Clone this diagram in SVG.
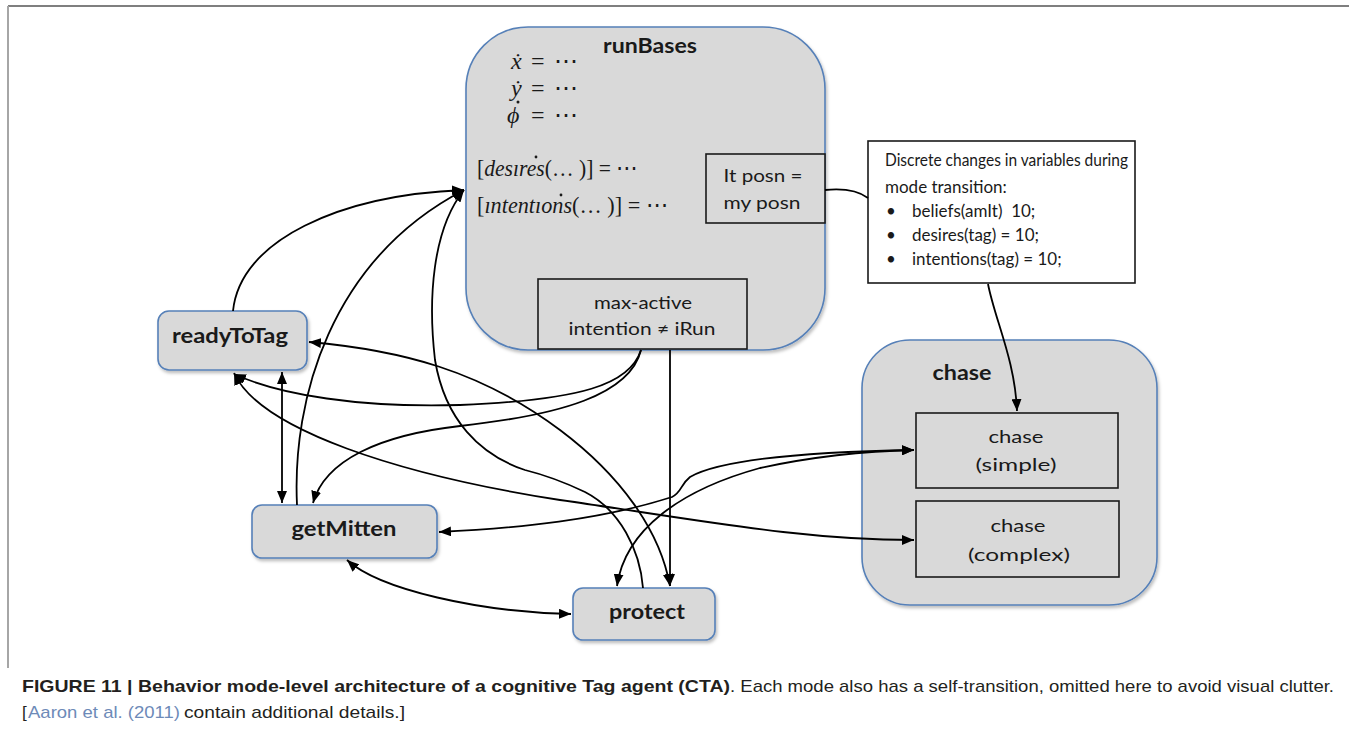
<svg xmlns="http://www.w3.org/2000/svg" width="1357" height="733" viewBox="0 0 1357 733">
<style>
.mode{fill:#d9d9d9;stroke:#5680b8;stroke-width:1.6}
.inner{fill:#d9d9d9;stroke:#1a1a1a;stroke-width:1.6}
.note{fill:#ffffff;stroke:#1a1a1a;stroke-width:1.6}
.lbl{font-family:Lato,"Open Sans","Liberation Sans",sans-serif;font-weight:bold;font-size:20px;fill:#1a1a1a;text-anchor:middle}
.txt{font-family:Lato,"Open Sans","Liberation Sans",sans-serif;font-size:18px;fill:#1a1a1a;text-anchor:middle}
.ntxt{font-family:Lato,"Open Sans","Liberation Sans",sans-serif;font-size:17px;fill:#1a1a1a}
.math{font-family:"Liberation Serif","DejaVu Serif",serif;font-size:24px;fill:#1a1a1a}
.it{font-style:italic}
.conn path{fill:none;stroke:#000;stroke-width:1.8}
.cap{font-family:"Liberation Sans",Arial,sans-serif;font-size:17px;fill:#231f20}
</style>
<defs>
<marker id="ah" viewBox="0 0 12 10" refX="12" refY="5" markerWidth="12" markerHeight="10" markerUnits="userSpaceOnUse" orient="auto-start-reverse"><path d="M0,0 L12,5 L0,10 z" fill="#000"/></marker>
<filter id="sh" x="-10%" y="-10%" width="130%" height="140%"><feDropShadow dx="1.5" dy="2.5" stdDeviation="1.5" flood-color="#000" flood-opacity="0.25"/></filter>
</defs>
<rect width="1357" height="733" fill="#fff"/>
<g id="frame" fill="none">
<path d="M8,6 H1349" stroke="#7f7f7f" stroke-width="2"/>
<path d="M8,6 V668" stroke="#a6a6a6" stroke-width="2"/>
</g>

<g id="runBases">
<rect class="mode" x="466" y="27" width="359" height="323" rx="62" filter="url(#sh)"/>
<text class="lbl" x="650" y="53" textLength="94" lengthAdjust="spacingAndGlyphs">runBases</text>
<text class="math" y="69"><tspan class="it" x="511">ẋ</tspan><tspan x="531">=</tspan><tspan x="554">⋯</tspan></text>
<text class="math" y="96"><tspan class="it" x="511">ẏ</tspan><tspan x="531">=</tspan><tspan x="554">⋯</tspan></text>
<text class="math" y="123"><tspan class="it" x="507">ϕ</tspan><tspan x="531">=</tspan><tspan x="554">⋯</tspan></text>
<circle cx="518" cy="102" r="1.5" fill="#1a1a1a"/>
<text class="math" x="477" y="176" textLength="161" lengthAdjust="spacingAndGlyphs">[<tspan class="it">desıres</tspan>(… )] = ⋯</text>
<circle cx="536" cy="157" r="1.4" fill="#1a1a1a"/>
<text class="math" x="477" y="213" textLength="191" lengthAdjust="spacingAndGlyphs">[<tspan class="it">ıntentıons</tspan>(… )] = ⋯</text>
<circle cx="561" cy="195" r="1.4" fill="#1a1a1a"/>
</g>

<g id="itPosn">
<rect class="inner" x="706" y="154" width="119" height="69"/>
<text class="txt" x="763" y="182" textLength="79" lengthAdjust="spacingAndGlyphs">It posn =</text>
<text class="txt" x="762" y="209" textLength="77" lengthAdjust="spacingAndGlyphs">my posn</text>
</g>

<g id="maxActive">
<rect class="inner" x="538" y="279" width="209" height="70"/>
<text class="txt" x="643" y="309" textLength="98" lengthAdjust="spacingAndGlyphs">max-active</text>
<text class="txt" x="642" y="335" textLength="147" lengthAdjust="spacingAndGlyphs">intention ≠ iRun</text>
</g>

<g id="discreteNote">
<rect class="note" x="868" y="141" width="267" height="142"/>
<text class="ntxt" x="885" y="166" textLength="243" lengthAdjust="spacingAndGlyphs">Discrete changes in variables during</text>
<text class="ntxt" x="885" y="193">mode transition:</text>
<text class="ntxt" x="886" y="217">•</text>
<text class="ntxt" x="912" y="217" xml:space="preserve">beliefs(amIt)  10;</text>
<text class="ntxt" x="886" y="241">•</text>
<text class="ntxt" x="912" y="241">desires(tag) = 10;</text>
<text class="ntxt" x="886" y="265">•</text>
<text class="ntxt" x="912" y="265">intentions(tag) = 10;</text>
</g>

<g id="chase">
<rect class="mode" x="862" y="340" width="295" height="265" rx="48" filter="url(#sh)"/>
<text class="lbl" x="962" y="380" textLength="59" lengthAdjust="spacingAndGlyphs">chase</text>
</g>
<g id="chaseSimple">
<rect class="inner" x="916" y="413" width="202" height="75"/>
<text class="txt" x="1016" y="443" textLength="55" lengthAdjust="spacingAndGlyphs">chase</text>
<text class="txt" x="1016" y="471" textLength="81" lengthAdjust="spacingAndGlyphs">(simple)</text>
</g>
<g id="chaseComplex">
<rect class="inner" x="916" y="501" width="203" height="76"/>
<text class="txt" x="1018" y="532" textLength="55" lengthAdjust="spacingAndGlyphs">chase</text>
<text class="txt" x="1019" y="561" textLength="102" lengthAdjust="spacingAndGlyphs">(complex)</text>
</g>

<g id="readyToTag">
<rect class="mode" x="158" y="311" width="149" height="59" rx="11" filter="url(#sh)"/>
<text class="lbl" x="230" y="343" textLength="116" lengthAdjust="spacingAndGlyphs">readyToTag</text>
</g>
<g id="getMitten">
<rect class="mode" x="252" y="505" width="185" height="53" rx="10" filter="url(#sh)"/>
<text class="lbl" x="344" y="536" textLength="105" lengthAdjust="spacingAndGlyphs">getMitten</text>
</g>
<g id="protect">
<rect class="mode" x="573" y="588" width="142" height="52" rx="10" filter="url(#sh)"/>
<text class="lbl" x="647" y="619" textLength="76" lengthAdjust="spacingAndGlyphs">protect</text>
</g>

<g id="connectors" class="conn">
<path d="M233,311 C240,240 340,195 464,190" marker-end="url(#ah)"/>
<path d="M297,505 C292,400 330,260 464,190" marker-end="url(#ah)"/>
<path d="M643,588 C640,550 620,510 585,492 C560,480 545,475 525,470 C480,455 445,420 435,360 C428,300 432,230 464,190" marker-end="url(#ah)"/>
<path d="M641,350 C630,385 580,400 460,405 C360,408 280,395 234,374" marker-end="url(#ah)"/>
<path d="M641,350 C630,395 560,415 460,426 C380,435 325,460 313,503" marker-end="url(#ah)"/>
<path d="M670,350 L670,586" marker-end="url(#ah)"/>
<path d="M282,372 L282,503" marker-start="url(#ah)" marker-end="url(#ah)"/>
<path d="M234,373 C260,430 400,475 560,500 C700,520 800,540 914,540" marker-start="url(#ah)" marker-end="url(#ah)"/>
<path d="M309,342 C400,350 480,370 560,430 C620,475 660,530 670,586" marker-start="url(#ah)" marker-end="url(#ah)"/>
<path d="M439,532 C520,528 600,520 672,497 C682,492 680,485 690,477 C720,460 800,452 914,450" marker-start="url(#ah)" marker-end="url(#ah)"/>
<path d="M617,586 C625,530 680,490 760,468 C820,455 870,451 914,450" marker-start="url(#ah)" marker-end="url(#ah)"/>
<path d="M347,560 C380,590 480,612 571,614" marker-start="url(#ah)" marker-end="url(#ah)"/>
<path d="M825,190 C845,188 860,192 868,198"/>
<path d="M988,284 C995,320 1015,360 1017,411" marker-end="url(#ah)"/>
</g>

<g id="caption">
<text class="cap" x="22" y="692" font-weight="bold" textLength="708" lengthAdjust="spacingAndGlyphs">FIGURE 11 | Behavior mode-level architecture of a cognitive Tag agent (CTA)</text>
<text class="cap" x="730" y="692" textLength="604" lengthAdjust="spacingAndGlyphs">. Each mode also has a self-transition, omitted here to avoid visual clutter.</text>
<text class="cap" x="22" y="718">[</text>
<text class="cap" x="28" y="718" style="fill:#6d8ab8" textLength="152" lengthAdjust="spacingAndGlyphs">Aaron et al. (2011)</text>
<text class="cap" x="184" y="718" textLength="221" lengthAdjust="spacingAndGlyphs">contain additional details.]</text>
</g>
</svg>
